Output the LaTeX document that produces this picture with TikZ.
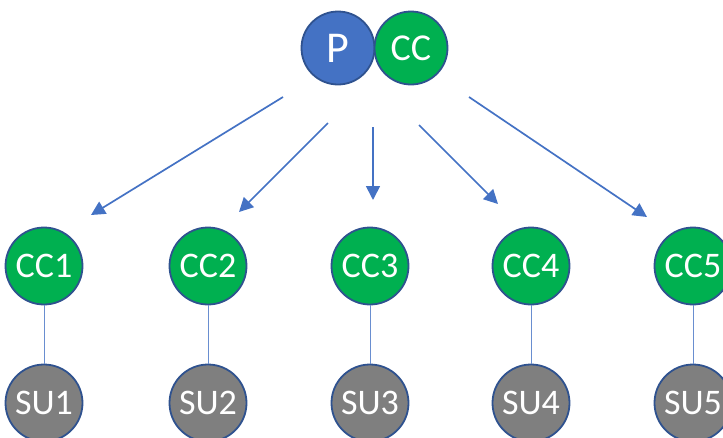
\documentclass[tikz,border=0pt]{standalone}
\usepackage{fontspec}
\setmainfont{Carlito}
\usetikzlibrary{arrows.meta}
\definecolor{pblue}{HTML}{4472C4}
\definecolor{cgreen}{HTML}{00B050}
\definecolor{sgray}{HTML}{7F7F7F}
\definecolor{edgeb}{HTML}{2F528F}
\begin{document}
\begin{tikzpicture}[x=1pt,y=-1pt,
  circ/.style={circle,draw=edgeb,line width=1.8pt,text=white,inner sep=0pt,minimum size=73pt},
  sunode/.style={circ,fill=sgray,font=\fontsize{36}{36}\selectfont,minimum size=77pt},
  ccnode/.style={sunode,fill=cgreen},
  arr/.style={draw=pblue,line width=1.7pt,-{Triangle[length=14pt,width=14pt]}},
  link/.style={draw=pblue!80,line width=1pt}]
\useasboundingbox (0,0) rectangle (723,437);
\node[circ,fill=pblue,font=\fontsize{44}{44}\selectfont] (P) at (338,48) {P};
\node[circ,fill=cgreen,font=\fontsize{38}{38}\selectfont] (CC) at (411,48) {CC};
\foreach \i/\x in {1/44,2/208,3/370,4/531,5/693}{
  \node[sunode] (SU\i) at (\x,403) {SU\i};
  \node[ccnode] (CC\i) at (\x,266) {CC\i};
  \draw[link] (CC\i) -- (SU\i);
}
\coordinate (s1) at (283,97);  \coordinate (e1) at (91,215);
\coordinate (s2) at (328,123); \coordinate (e2) at (239,212);
\coordinate (s3) at (373,127); \coordinate (e3) at (373,200);
\coordinate (s4) at (419,125); \coordinate (e4) at (498,204);
\coordinate (s5) at (469,97);  \coordinate (e5) at (647,217);
\foreach \i in {1,...,5}{\draw[arr] (s\i) -- (e\i);}
\end{tikzpicture}
\end{document}
